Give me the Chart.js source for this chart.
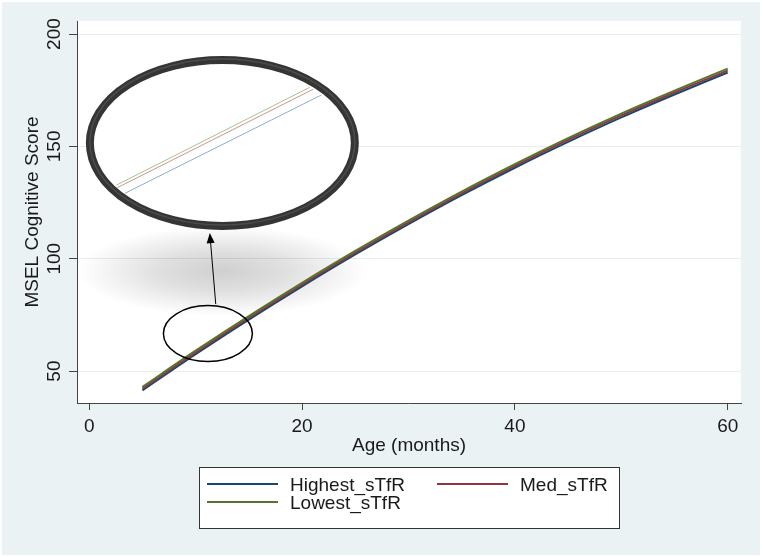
<!DOCTYPE html>
<html>
<head>
<meta charset="utf-8">
<script src="https://cdn.jsdelivr.net/npm/chart.js@4/dist/chart.umd.min.js"></script>
<style>
  html, body { margin: 0; padding: 0; background: #fff; }
  canvas { display: block; }
</style>
</head>
<body>
<canvas id="msel" width="763" height="557"></canvas>
<script>
// values
const ages = [5, 10, 15, 20, 25, 30, 35, 40, 45, 50, 55, 60];
const highestSTfR = [41.4, 57.5, 72.9, 87.7, 101.9, 115.4, 128.3, 140.5, 152.0, 162.9, 173.1, 182.9];
const medSTfR = [42.2, 58.3, 73.7, 88.5, 102.7, 116.2, 129.1, 141.3, 152.9, 163.8, 174.0, 183.7];
const lowestSTfR = [43.0, 59.1, 74.5, 89.3, 103.5, 117.0, 129.9, 142.1, 153.7, 164.6, 174.8, 184.6];
const seriesNames = ['Highest_sTfR', 'Med_sTfR', 'Lowest_sTfR'];
const xTicks = [0, 20, 40, 60];
const yTicks = [50, 100, 150, 200];

const BG = '#eaf2f3';
const GRID = '#e4edef';
const AXIS = '#444';
const TEXT = '#1a1a1a';
const FONT = '19px "Liberation Sans", Arial, Helvetica, sans-serif';
const colors = ['rgb(26,71,111)', 'rgb(144,53,59)', 'rgb(85,117,47)'];
const insetColors = ['#8eaed4', '#d69090', '#a6c290'];

const toPoints = ys => ages.map((a, i) => ({ x: a, y: ys[i] }));

// magnifier annotation, in data units
const smallLens = { x: 11.15, y: 66.7, rx: 4.18, ry: 12.46 };
const bigLens = { x: 12.51, y: 151.5, rx: 12.45, ry: 36.9 };
const lensShadow = { x: 12.5, y: 94.5, rx: 13.6, ry: 20 };
const arrow = { x0: 11.89, y0: 79.8, x1: 11.33, y1: 111.4 };
// zoomed-in copies of the three lines shown inside the big lens
const insetLines = [
    [3.35, 129.1, 21.83, 172.9],
    [2.63, 131.6, 21.04, 175.4],
    [2.57, 132.8, 20.73, 176.3]
];

function ellipsePath(ctx, cx, cy, rx, ry) {
    ctx.beginPath();
    ctx.ellipse(cx, cy, rx, ry, 0, 0, Math.PI * 2);
}

const stataDeco = {
    id: 'stataDeco',
    beforeDraw(chart) {
        const { ctx, chartArea: a } = chart;
        ctx.save();
        ctx.fillStyle = '#fff';
        ctx.fillRect(0, 0, chart.width, chart.height);
        ctx.fillStyle = BG;
        ctx.fillRect(2, 2, chart.width - 5, chart.height - 4);
        ctx.fillStyle = '#fff';
        ctx.fillRect(a.left, a.top, a.right - a.left, a.bottom - a.top);
        ctx.restore();
    },
    beforeDatasetsDraw(chart) {
        const { ctx, chartArea: a, scales: { x, y } } = chart;
        const cx = x.getPixelForValue(lensShadow.x);
        const cy = y.getPixelForValue(lensShadow.y);
        const rx = x.getPixelForValue(lensShadow.x + lensShadow.rx) - cx;
        const ry = cy - y.getPixelForValue(lensShadow.y + lensShadow.ry);
        ctx.save();
        ctx.beginPath();
        ctx.rect(a.left, a.top, a.right - a.left, a.bottom - a.top);
        ctx.clip();
        ctx.translate(cx, cy);
        ctx.scale(1, ry / rx);
        const g = ctx.createRadialGradient(0, 0, 0, 0, 0, rx);
        g.addColorStop(0, 'rgba(0,0,0,0.19)');
        g.addColorStop(0.45, 'rgba(0,0,0,0.12)');
        g.addColorStop(1, 'rgba(0,0,0,0)');
        ctx.fillStyle = g;
        ctx.fillRect(-rx, -rx, rx * 2, rx * 2);
        ctx.restore();
    },
    afterDatasetsDraw(chart) {
        const { ctx, scales: { x, y } } = chart;
        const px = v => x.getPixelForValue(v);
        const py = v => y.getPixelForValue(v);
        ctx.save();

        // small ellipse round the lines
        ellipsePath(ctx, px(smallLens.x), py(smallLens.y),
            px(smallLens.x + smallLens.rx) - px(smallLens.x),
            py(smallLens.y) - py(smallLens.y + smallLens.ry));
        ctx.strokeStyle = '#000';
        ctx.lineWidth = 1.5;
        ctx.stroke();

        // arrow
        const ax0 = px(arrow.x0), ay0 = py(arrow.y0), ax1 = px(arrow.x1), ay1 = py(arrow.y1);
        const ang = Math.atan2(ay1 - ay0, ax1 - ax0);
        ctx.beginPath();
        ctx.moveTo(ax0, ay0);
        ctx.lineTo(ax1 - 8 * Math.cos(ang), ay1 - 8 * Math.sin(ang));
        ctx.lineWidth = 1;
        ctx.stroke();
        ctx.beginPath();
        ctx.moveTo(ax1, ay1);
        ctx.lineTo(ax1 - 10 * Math.cos(ang) + 4 * Math.sin(ang), ay1 - 10 * Math.sin(ang) - 4 * Math.cos(ang));
        ctx.lineTo(ax1 - 10 * Math.cos(ang) - 4 * Math.sin(ang), ay1 - 10 * Math.sin(ang) + 4 * Math.cos(ang));
        ctx.closePath();
        ctx.fillStyle = '#000';
        ctx.fill();

        // big magnifier lens
        const bx = px(bigLens.x), by = py(bigLens.y);
        const brx = px(bigLens.x + bigLens.rx) - bx;
        const bry = by - py(bigLens.y + bigLens.ry);
        ellipsePath(ctx, bx, by, brx, bry);
        ctx.fillStyle = '#fff';
        ctx.fill();
        ctx.save();
        ellipsePath(ctx, bx, by, brx, bry);
        ctx.clip();
        insetLines.forEach((l, i) => {
            ctx.beginPath();
            ctx.moveTo(px(l[0]), py(l[1]));
            ctx.lineTo(px(l[2]), py(l[3]));
            ctx.strokeStyle = insetColors[i];
            ctx.lineWidth = 1;
            ctx.stroke();
        });
        ctx.restore();
        ellipsePath(ctx, bx, by, brx, bry);
        ctx.strokeStyle = '#353535';
        ctx.lineWidth = 8;
        ctx.stroke();
        ellipsePath(ctx, bx, by - 1, brx, bry);
        ctx.strokeStyle = 'rgba(120,120,120,0.35)';
        ctx.lineWidth = 1.5;
        ctx.stroke();
        ctx.restore();
    },
    afterDraw(chart) {
        const { ctx, chartArea: a, scales: { x, y } } = chart;
        ctx.save();
        ctx.font = FONT;
        ctx.fillStyle = TEXT;

        // x tick labels and title
        ctx.textAlign = 'center';
        ctx.textBaseline = 'middle';
        xTicks.forEach(v => ctx.fillText(String(v), x.getPixelForValue(v), a.bottom + 24));
        ctx.fillText('Age (months)', (a.left + a.right) / 2, a.bottom + 42.5);

        // y tick labels (vertical, Stata style) and title
        yTicks.forEach(v => {
            ctx.save();
            ctx.translate(55, y.getPixelForValue(v));
            ctx.rotate(-Math.PI / 2);
            ctx.fillText(String(v), 0, 0);
            ctx.restore();
        });
        ctx.save();
        ctx.translate(33, (a.top + a.bottom) / 2);
        ctx.rotate(-Math.PI / 2);
        ctx.fillText('MSEL Cognitive Score', 0, 0);
        ctx.restore();

        // legend box
        const lw = 420, lh = 61;
        const lx = Math.round((a.left + a.right) / 2 - lw / 2);
        const ly = Math.round(a.bottom + 64);
        ctx.fillStyle = '#fff';
        ctx.fillRect(lx, ly, lw, lh);
        ctx.strokeStyle = '#333';
        ctx.lineWidth = 1;
        ctx.strokeRect(lx + 0.5, ly + 0.5, lw, lh);
        const slots = [[0, 0], [230, 0], [0, 18]];
        chart.data.datasets.forEach((ds, i) => {
            const [dx, dy] = slots[i];
            const ry = ly + 17 + dy;
            ctx.beginPath();
            ctx.moveTo(lx + 8 + dx, ry);
            ctx.lineTo(lx + 79 + dx, ry);
            ctx.strokeStyle = ds.borderColor;
            ctx.lineWidth = 2;
            ctx.stroke();
            ctx.fillStyle = TEXT;
            ctx.textAlign = 'left';
            ctx.fillText(ds.label, lx + 91 + dx, ry + 2);
        });
        ctx.restore();
    }
};

new Chart(document.getElementById('msel'), {
    type: 'line',
    data: {
        datasets: [
            { label: seriesNames[0], data: toPoints(highestSTfR), borderColor: colors[0], order: 3 },
            { label: seriesNames[1], data: toPoints(medSTfR), borderColor: colors[1], order: 2 },
            { label: seriesNames[2], data: toPoints(lowestSTfR), borderColor: colors[2], order: 1 }
        ]
    },
    options: {
        responsive: false,
        animation: false,
        events: [],
        layout: { padding: { left: 0, top: 21, right: 22, bottom: 0 } },
        elements: {
            point: { radius: 0 },
            line: { borderWidth: 2, fill: false, cubicInterpolationMode: 'monotone' }
        },
        plugins: {
            legend: { display: false },
            tooltip: { enabled: false }
        },
        scales: {
            x: {
                type: 'linear',
                min: -1.15,
                max: 61.25,
                afterBuildTicks: s => { s.ticks = xTicks.map(v => ({ value: v })); },
                afterFit: s => { s.height = 154; },
                ticks: { display: false },
                grid: { drawOnChartArea: false, tickLength: 7, tickColor: AXIS },
                border: { color: AXIS, width: 1 }
            },
            y: {
                min: 35.8,
                max: 205.8,
                afterBuildTicks: s => { s.ticks = yTicks.map(v => ({ value: v })); },
                afterFit: s => { s.width = 77; },
                ticks: { display: false },
                grid: { color: GRID, lineWidth: 1, tickLength: 8, tickColor: AXIS },
                border: { color: AXIS, width: 1 }
            }
        }
    },
    plugins: [stataDeco]
});
</script>
</body>
</html>
